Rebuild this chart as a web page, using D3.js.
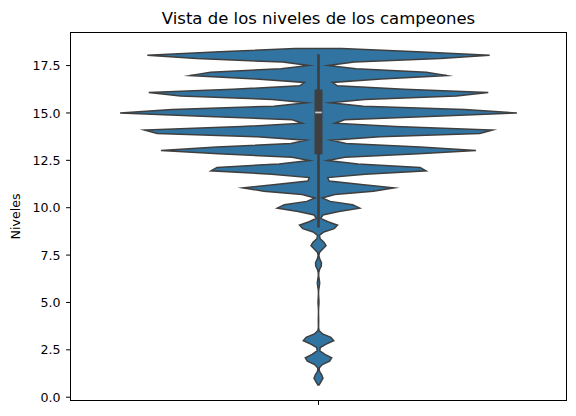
<!DOCTYPE html>
<html>
<head>
<meta charset="utf-8">
<script src="https://cdn.jsdelivr.net/npm/d3@7"></script>
<style>
  html, body { margin: 0; padding: 0; background: #ffffff; }
  svg { display: block; font-family: "DejaVu Sans", sans-serif; }
</style>
</head>
<body>
<svg id="chart" width="576" height="416"></svg>
<script>
// ---- data ----
const levels = [1, 2, 3, 4, 5, 6, 7, 8, 9, 10, 11, 12, 13, 14, 15, 16, 17, 18];
const counts = [45, 138, 157, 2, 5, 12, 32, 76, 197, 428, 762, 1170, 1575, 1878, 2006, 1752, 1337, 1722];
const category = [""];
const yTicks = [0, 2.5, 5, 7.5, 10, 12.5, 15, 17.5];
const yLimits = [-0.2, 19.22];
const kdeBandwidth = [0.19];
const titleText = "Vista de los niveles de los campeones";
const yLabelText = "Niveles";

// ---- layout ----
const plotL = 70.5, plotR = 566.5, plotT = 32.5, plotB = 400.5;
const svg = d3.select("#chart");

const x = d3.scaleBand().domain(category).range([plotL, plotR]).padding(0);
const y = d3.scaleLinear().domain(yLimits).range([plotB, plotT]);

// ---- KDE like seaborn (gridsize 100, cut 2) ----
const bw = kdeBandwidth[0];
const gLo = d3.min(levels) - 2 * bw, gHi = d3.max(levels) + 2 * bw;
const gridN = 100;
const grid = d3.range(gridN).map(i => gLo + (gHi - gLo) * i / (gridN - 1));
const dens = grid.map(g => d3.sum(levels, (l, i) => counts[i] * Math.exp(-((g - l) ** 2) / (2 * bw * bw))));
const maxD = d3.max(dens);
const cx = x("") + x.bandwidth() / 2;
const halfW = d3.scaleLinear().domain([0, maxD]).range([0, x.bandwidth() * 0.4]);
const pts = grid.map((g, i) => ({ v: g, d: dens[i] }));

const area = d3.area()
  .y(d => y(d.v))
  .x0(d => cx - halfW(d.d))
  .x1(d => cx + halfW(d.d))
  .curve(d3.curveLinear);

svg.append("path")
  .datum(pts)
  .attr("d", area)
  .attr("fill", "#3274a1")
  .attr("stroke", "#3f3f3f")
  .attr("stroke-width", 1.5)
  .attr("stroke-linejoin", "miter")
  .attr("stroke-miterlimit", 10);

// ---- inner box stats from weighted data ----
const total = d3.sum(counts);
function valAt(k) {
  let c = 0;
  for (let i = 0; i < levels.length; i++) { c += counts[i]; if (k < c) return levels[i]; }
  return levels[levels.length - 1];
}
function quantile(p) {
  const pos = p * (total - 1);
  const a = valAt(Math.floor(pos)), b = valAt(Math.ceil(pos));
  return a + (b - a) * (pos - Math.floor(pos));
}
const q1 = quantile(0.25), med = quantile(0.5), q3 = quantile(0.75);
const iqr = q3 - q1;
const present = levels.filter((l, i) => counts[i] > 0);
const whLo = d3.min(present.filter(l => l >= q1 - 1.5 * iqr));
const whHi = d3.max(present.filter(l => l <= q3 + 1.5 * iqr));

svg.append("line")
  .attr("x1", cx).attr("x2", cx)
  .attr("y1", y(whLo)).attr("y2", y(whHi))
  .attr("stroke", "#3f3f3f").attr("stroke-width", 2.7)
  .attr("stroke-linecap", "square");
svg.append("line")
  .attr("x1", cx).attr("x2", cx)
  .attr("y1", y(q1)).attr("y2", y(q3))
  .attr("stroke", "#3f3f3f").attr("stroke-width", 8)
  .attr("stroke-linecap", "square");
svg.append("line")
  .attr("x1", cx - 3.3).attr("x2", cx + 3.3)
  .attr("y1", y(med)).attr("y2", y(med))
  .attr("stroke", "#cccccc").attr("stroke-width", 1.7);

// ---- axes ----
const yAxis = d3.axisLeft(y).tickValues(yTicks).tickFormat(d3.format(".1f")).tickSize(4.4).tickPadding(5.6);
const gy = svg.append("g").attr("transform", `translate(${plotL},0)`).call(yAxis);
gy.select(".domain").remove();
gy.selectAll(".tick line").attr("stroke", "#000").attr("stroke-width", 1);
gy.selectAll(".tick text")
  .attr("font-size", "12.6px")
  .attr("font-family", "DejaVu Sans, sans-serif")
  .attr("fill", "#000")
  .attr("dy", "0.36em");

const xAxis = d3.axisBottom(x).tickSize(4.4).tickFormat(d => d);
const gx = svg.append("g").attr("transform", `translate(0,${plotB})`).call(xAxis);
gx.select(".domain").remove();
gx.selectAll(".tick line").attr("stroke", "#000").attr("stroke-width", 1);

// spines
svg.append("rect")
  .attr("x", plotL).attr("y", plotT)
  .attr("width", plotR - plotL).attr("height", plotB - plotT)
  .attr("fill", "none").attr("stroke", "#000").attr("stroke-width", 1);

// title
svg.append("text")
  .attr("x", (plotL + plotR) / 2).attr("y", 23.5)
  .attr("text-anchor", "middle")
  .attr("font-size", "16.5px")
  .attr("fill", "#000")
  .text(titleText);

// y label
svg.append("text")
  .attr("transform", `translate(19.5,${(plotT + plotB) / 2}) rotate(-90)`)
  .attr("text-anchor", "middle")
  .attr("font-size", "12.6px")
  .attr("fill", "#000")
  .text(yLabelText);
</script>
</body>
</html>
